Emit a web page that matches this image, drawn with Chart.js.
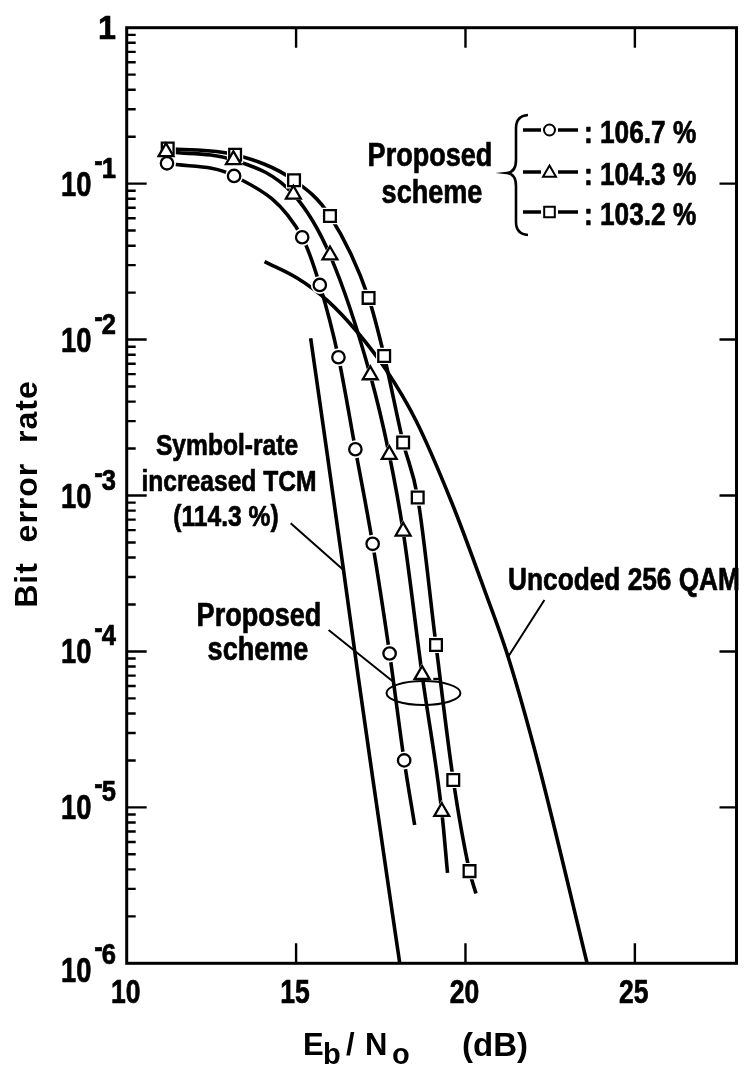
<!DOCTYPE html>
<html>
<head>
<meta charset="utf-8">
<script src="https://cdn.jsdelivr.net/npm/chart.js@4.4.1/dist/chart.umd.min.js"></script>
<style>
  html, body { margin: 0; padding: 0; background: #fff; overflow: hidden; }
  #ber { display: block; }
</style>
</head>
<body>
<canvas id="ber" width="748" height="1072"></canvas>
<script>
// Proposed scheme, 106.7 % (circles)
const circleEbNo = [11.19, 13.17, 15.18, 15.70, 16.25, 16.75, 17.26, 17.76, 18.19];
const circleBER  = [0.135, 0.112, 0.0453, 0.0224, 0.0077, 0.00198, 0.00049, 9.7e-5, 2.0e-5];
const circleTail = [18.50, 7.7e-6];

// Proposed scheme, 104.3 % (triangles)
const triangleEbNo = [11.16, 13.15, 14.92, 16.00, 17.19, 17.75, 18.16, 18.72, 19.30];
const triangleBER  = [0.160, 0.142, 0.0854, 0.0348, 0.00593, 0.00183, 0.00059, 7.1e-5, 9.4e-6];
const triangleTail = [19.47, 3.8e-6];

// Proposed scheme, 103.2 % (squares)
const squareEbNo = [11.21, 13.20, 14.94, 16.00, 17.14, 17.60, 18.16, 18.59, 19.13, 19.64, 20.12];
const squareBER  = [0.168, 0.153, 0.105, 0.062, 0.0185, 0.00785, 0.00219, 0.00097, 1.1e-4, 1.5e-5, 3.9e-6];
const squareTail = [20.31, 2.8e-6];

// Symbol-rate increased TCM (114.3 %)
const tcmEbNo = [15.43, 15.91, 16.40, 16.84, 17.28, 17.69, 18.06];
const tcmBER  = [0.0102, 0.0019, 3.33e-4, 6.75e-5, 1.45e-5, 3.52e-6, 1.0e-6];

// Uncoded 256 QAM
const qamEbNo = [14.07, 15.04, 15.91, 16.78, 17.66, 18.53, 19.60, 20.56, 21.26, 22.16, 23.59];
const qamBER  = [0.0316, 0.0247, 0.0179, 0.01135, 0.00638, 0.00305, 8.95e-4, 2.48e-4, 9.2e-5, 1.87e-5, 1.0e-6];

// Axis ticks
const xTickValues = [10, 15, 20, 25];
const xTickLabels = ['10', '15', '20', '25'];
const yDecades = [0, -1, -2, -3, -4, -5, -6];

// Legend entries
const legendRates = ['106.7 %', '104.3 %', '103.2 %'];
const legendStyles = ['circle', 'triangle', 'rect'];

const FACE = '"Liberation Sans", Arial, Helvetica, sans-serif';

const pts = (xs, ys) => xs.map((v, i) => ({ x: v, y: ys[i] }));
const withTail = (xs, ys, tail) => pts(xs, ys).concat([{ x: tail[0], y: tail[1] }]);

const curve = (data) => ({
  data, showLine: true, borderColor: '#000', borderWidth: 3.6,
  pointRadius: 0, cubicInterpolationMode: 'monotone', fill: false, order: 3
});
const halo = (data, style, r) => ({
  data, showLine: false, pointStyle: style, pointRadius: r,
  pointBackgroundColor: '#fff', pointBorderWidth: 0, order: 2
});
const marker = (data, style, r) => ({
  data, showLine: false, pointStyle: style, pointRadius: r,
  pointBackgroundColor: '#fff', pointBorderColor: '#000', pointBorderWidth: 2.3, order: 1
});

const circlePts = pts(circleEbNo, circleBER);
const trianglePts = pts(triangleEbNo, triangleBER);
const squarePts = pts(squareEbNo, squareBER);

// condensed heavy text: Liberation Sans Bold squeezed horizontally, lightly stroked
function cText(ctx, str, x, y, size, align, sx) {
  ctx.save();
  ctx.font = 'bold ' + size + 'px ' + FACE;
  ctx.translate(x, y);
  ctx.scale(sx, 1);
  ctx.textAlign = align;
  ctx.textBaseline = 'alphabetic';
  ctx.lineWidth = 0.7;
  ctx.lineJoin = 'round';
  ctx.fillText(str, 0, 0);
  ctx.strokeText(str, 0, 0);
  ctx.restore();
}
function cWidth(ctx, str, size, sx) {
  ctx.save();
  ctx.font = 'bold ' + size + 'px ' + FACE;
  const w = ctx.measureText(str).width * sx;
  ctx.restore();
  return w;
}

const decor = {
  id: 'decor',
  afterDatasetsDraw(chart) {
    const { ctx, chartArea: a, scales: { x, y } } = chart;
    const X = v => x.getPixelForValue(v);
    const Y = e => y.getPixelForValue(Math.pow(10, e));
    const NUM = 0.78, TXT = 0.82;
    ctx.save();
    ctx.strokeStyle = '#000';
    ctx.fillStyle = '#000';

    // frame
    ctx.lineWidth = 3;
    ctx.strokeRect(a.left, a.top, a.right - a.left, a.bottom - a.top);

    // inward ticks
    ctx.lineWidth = 2.4;
    ctx.beginPath();
    xTickValues.forEach(v => {
      if (v <= x.min) return;
      const px = X(v);
      ctx.moveTo(px, a.bottom); ctx.lineTo(px, a.bottom - 20);
      ctx.moveTo(px, a.top); ctx.lineTo(px, a.top + 20);
    });
    yDecades.forEach(e => {
      const py = Y(e);
      if (e !== 0 && e !== -6) {
        ctx.moveTo(a.left, py); ctx.lineTo(a.left + 20, py);
        ctx.moveTo(a.right, py); ctx.lineTo(a.right - 17, py);
      }
      if (e > -6) {
        for (let m = 2; m <= 9; m++) {
          const pm = y.getPixelForValue(m * Math.pow(10, e - 1));
          ctx.moveTo(a.left, pm); ctx.lineTo(a.left + 9, pm);
        }
      }
    });
    ctx.stroke();

    // x tick labels
    xTickValues.forEach((v, i) => cText(ctx, xTickLabels[i], X(v) - 1, a.bottom + 40, 34, 'center', NUM));

    // y tick labels: 10 with a raised exponent
    yDecades.forEach(e => {
      const py = Y(e);
      if (e === 0) {
        cText(ctx, '1', 116, py + 11, 34, 'right', 0.95);
        return;
      }
      const base = py + (e === -6 ? 19 : 12);
      const exp = String(-e);
      cText(ctx, exp, 116, base - 18, 29, 'right', 0.88);
      const ew = cWidth(ctx, exp, 29, 0.88);
      cText(ctx, '-', 116 - ew + 1, base - 25, 29, 'right', 0.88);
      const hw = cWidth(ctx, '-', 29, 0.88);
      cText(ctx, '10', 116 - ew - hw - 2, base, 35, 'right', NUM);
    });

    // axis titles
    ctx.save();
    ctx.translate(37, 494);
    ctx.rotate(-Math.PI / 2);
    ctx.font = 'bold 32px ' + FACE;
    ctx.letterSpacing = '1px';
    ctx.textAlign = 'center';
    ctx.fillText('Bit  error  rate', 0, 0);
    ctx.restore();

    ctx.textAlign = 'left';
    ctx.font = 'bold 31px ' + FACE;
    ctx.fillText('E', 303, 1055);
    ctx.font = 'bold 29px ' + FACE;
    ctx.fillText('b', 323, 1064);
    ctx.font = 'bold 31px ' + FACE;
    ctx.fillText('/', 346, 1055);
    ctx.fillText('N', 365, 1055);
    ctx.font = 'bold 29px ' + FACE;
    ctx.fillText('o', 392, 1064);
    ctx.font = 'bold 33px ' + FACE;
    ctx.fillText('(dB)', 462, 1056);

    // annotations
    cText(ctx, 'Symbol-rate', 227, 455, 30, 'center', TXT);
    cText(ctx, 'increased TCM', 229, 491, 30, 'center', TXT);
    cText(ctx, '(114.3 %)', 226, 526, 30, 'center', TXT);
    cText(ctx, 'Proposed', 259, 626, 33, 'center', TXT);
    cText(ctx, 'scheme', 258, 660, 33, 'center', TXT);
    cText(ctx, 'Uncoded 256 QAM', 624, 590, 32, 'center', TXT);
    cText(ctx, 'Proposed', 430, 166, 33, 'center', TXT);
    cText(ctx, 'scheme', 432, 203, 33, 'center', TXT);

    // leader lines and ellipse
    ctx.lineWidth = 2;
    ctx.beginPath();
    ctx.moveTo(X(14.84), Y(-3.178)); ctx.lineTo(X(16.40), Y(-3.478));
    ctx.moveTo(X(15.96), Y(-3.862)); ctx.lineTo(X(17.87), Y(-4.194));
    ctx.moveTo(X(22.33), Y(-3.67)); ctx.lineTo(X(21.26), Y(-4.034));
    ctx.stroke();
    ctx.beginPath();
    ctx.ellipse(X(18.76), Y(-4.267), 37, 12, 0, 0, Math.PI * 2);
    ctx.stroke();
    ctx.lineWidth = 2.5;
    ctx.beginPath();
    ctx.moveTo(X(19.05), Y(-4.177)); ctx.lineTo(X(19.26), Y(-4.177));
    ctx.stroke();

    // brace
    ctx.lineWidth = 2.6;
    ctx.beginPath();
    ctx.moveTo(528, 115);
    ctx.quadraticCurveTo(516, 116, 516, 128);
    ctx.lineTo(516, 160);
    ctx.quadraticCurveTo(516, 172, 507, 173);
    ctx.quadraticCurveTo(516, 174, 516, 186);
    ctx.lineTo(516, 222);
    ctx.quadraticCurveTo(516, 234, 528, 235);
    ctx.stroke();

    // legend rows
    const rowsY = [130, 172, 212];
    const radii = { circle: 5.5, triangle: 7.5, rect: 7.5 };
    legendStyles.forEach((st, i) => {
      const ry = rowsY[i];
      ctx.lineWidth = 3.4;
      ctx.beginPath();
      ctx.moveTo(523, ry); ctx.lineTo(541, ry);
      ctx.moveTo(558, ry); ctx.lineTo(578, ry);
      ctx.stroke();
      ctx.fillStyle = '#fff';
      ctx.lineWidth = 2;
      Chart.helpers.drawPoint(ctx, { pointStyle: st, radius: radii[st], rotation: 0, borderWidth: 2 }, 549.5, st === 'triangle' ? ry + 1 : ry);
      ctx.fillStyle = '#000';
      cText(ctx, ': ' + legendRates[i], 584, ry + 13, 32, 'left', TXT);
    });
    ctx.restore();
  }
};

new Chart(document.getElementById('ber'), {
  type: 'scatter',
  data: {
    datasets: [
      curve(withTail(circleEbNo, circleBER, circleTail)),
      curve(withTail(triangleEbNo, triangleBER, triangleTail)),
      curve(withTail(squareEbNo, squareBER, squareTail)),
      curve(pts(tcmEbNo, tcmBER)),
      curve(pts(qamEbNo, qamBER)),
      halo(circlePts, 'circle', 9),
      halo(trianglePts, 'triangle', 11.5),
      halo(squarePts, 'rect', 11.5),
      marker(circlePts, 'circle', 6.2),
      marker(trianglePts, 'triangle', 8.6),
      marker(squarePts, 'rect', 8.3)
    ]
  },
  options: {
    responsive: false,
    animation: false,
    events: [],
    layout: { padding: { left: 126.7, top: 27.7, right: 2.3, bottom: 108.7 } },
    plugins: { legend: { display: false }, tooltip: { enabled: false }, title: { display: false } },
    scales: {
      x: { type: 'linear', min: 10, max: 28, display: false },
      y: { type: 'logarithmic', min: 1e-6, max: 1, display: false }
    }
  },
  plugins: [decor]
});
</script>
</body>
</html>
